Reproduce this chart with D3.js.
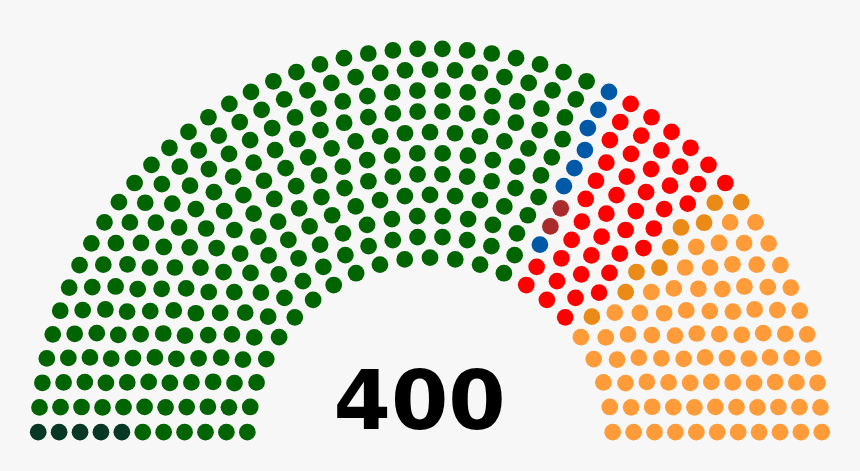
<!DOCTYPE html>
<html>
<head>
<meta charset="utf-8">
<script src="https://cdn.jsdelivr.net/npm/d3@7"></script>
<style>
  html, body { margin: 0; padding: 0; background: #f7f7f7; }
  svg { display: block; }
</style>
</head>
<body>
<div id="chart"></div>
<script>
// ---- Data ----
const partyNames  = ["Party A", "Party B", "Party C", "Party D", "Party E", "Party F", "Party G"];
const partySeats  = [5, 252, 7, 2, 43, 9, 82];
const partyColors = ["#073826", "#006400", "#0059a6", "#a82c2c", "#ff0000", "#ea8a17", "#ff9b39"];
const totalLabel  = ["400"];

// ---- Layout (parliament diagram arrangement) ----
const W = 860, H = 471;
const total = d3.sum(partySeats);

// seats that fit in n rows
function rowTotal(n) {
  let t = 0;
  for (let i = 1; i < n; i++) {
    t += Math.floor(Math.PI / (2 * Math.asin(2 / (3 * n + 4 * i - 2))));
  }
  t += Math.floor(Math.PI / (2 * Math.asin(2 / (7 * n - 2))));
  return t;
}
let rows = 1;
while (rowTotal(rows) < total) rows++;
const dotR = 0.4 / rows;
const capacity = rowTotal(rows);

const seats = [];
function addRow(J, R) {
  const a0 = Math.sin(dotR / R);
  if (J === 1) { seats.push({ angle: Math.PI / 2, R }); return; }
  for (let j = 0; j < J; j++) {
    const angle = j * (Math.PI - 2 * a0) / (J - 1) + a0;
    seats.push({ angle, R });
  }
}
for (let i = 1; i < rows; i++) {
  const J = Math.floor(total / capacity * Math.PI / (2 * Math.asin(2 / (3 * rows + 4 * i - 2))));
  const R = (3 * rows + 4 * i - 2) / (4 * rows);
  addRow(J, R);
}
addRow(total - seats.length, (7 * rows - 2) / (4 * rows));
seats.sort((a, b) => b.angle - a.angle || b.R - a.R);

// assign parties in order
let k = 0;
partySeats.forEach((n, p) => { for (let i = 0; i < n; i++) seats[k++].party = p; });

// ---- Scales ----
const cx = 430, cy = 440.5, unit = 229.9;
const x = d3.scaleLinear().domain([-1, 1]).range([cx - unit, cx + unit]);
const y = d3.scaleLinear().domain([0, 1]).range([cy, cy - unit]);
const color = d3.scaleOrdinal().domain(d3.range(partyNames.length)).range(partyColors);

const svg = d3.select("#chart").append("svg")
  .attr("width", W).attr("height", H);

svg.append("rect").attr("width", W).attr("height", H).attr("fill", "#f7f7f7");

svg.append("g").selectAll("circle")
  .data(seats)
  .join("circle")
  .attr("cx", d => x(d.R * Math.cos(d.angle)))
  .attr("cy", d => y(d.R * Math.sin(d.angle)))
  .attr("r", x(dotR) - x(0))
  .attr("fill", d => color(d.party))
  .append("title").text(d => partyNames[d.party]);

svg.append("text")
  .attr("x", x(-0.045))
  .attr("y", y(0.05))
  .attr("text-anchor", "middle")
  .attr("font-family", "DejaVu Sans, sans-serif")
  .attr("font-weight", "bold")
  .attr("font-size", 82.5)
  .attr("fill", "#000")
  .text(totalLabel[0]);
</script>
</body>
</html>
